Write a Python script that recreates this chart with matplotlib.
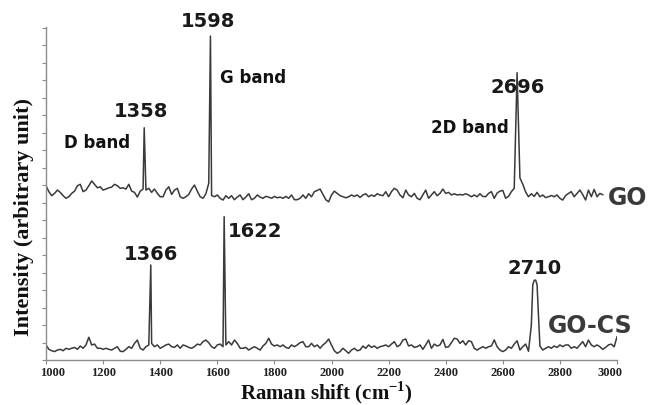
import numpy as np
import matplotlib.pyplot as plt
from matplotlib.transforms import ScaledTranslation

plt.rcParams['mathtext.fontset'] = 'custom'
plt.rcParams['mathtext.rm'] = 'Liberation Serif:bold'
plt.rcParams['mathtext.bf'] = 'Liberation Serif:bold'

# GO spectrum, sampled every 10 cm-1 (arbitrary intensity units)
go_shift = np.arange(1000, 2960, 10)
go_counts = [
    9.96, 9.62, 9.39, 9.52, 9.71, 9.58, 9.39, 9.24, 9.33, 9.52,
    9.65, 9.96, 10.04, 9.62, 9.71, 9.96, 10.23, 10.04, 9.84, 9.90,
    9.71, 9.77, 9.84, 9.88, 10.04, 9.96, 9.81, 9.84, 9.77, 10.04,
    9.65, 9.58, 9.31, 9.65, 9.77, 9.71, 9.81, 9.58, 9.77, 9.52,
    9.33, 9.33, 9.71, 9.90, 9.46, 9.71, 9.81, 9.33, 9.24, 9.33,
    9.46, 9.77, 10.00, 9.65, 9.33, 9.24, 9.50, 10.10, 9.40, 9.33,
    9.43, 9.24, 9.14, 9.39, 9.24, 9.39, 9.16, 9.31, 9.43, 9.16,
    9.31, 9.50, 9.16, 9.24, 9.43, 9.31, 9.24, 9.35, 9.31, 9.24,
    9.35, 9.27, 9.31, 9.24, 9.35, 9.24, 9.43, 9.16, 9.16, 9.24,
    9.43, 9.24, 9.50, 9.33, 9.62, 9.69, 9.77, 9.46, 9.16, 9.04,
    9.43, 9.65, 9.52, 9.39, 9.33, 9.27, 9.33, 9.43, 9.35, 9.43,
    9.29, 9.43, 9.50, 9.33, 9.43, 9.35, 9.50, 9.43, 9.39, 9.62,
    9.33, 9.62, 9.81, 9.71, 9.43, 9.27, 9.71, 9.43, 9.33, 9.52,
    9.24, 9.16, 9.43, 9.71, 9.24, 9.43, 9.62, 9.39, 9.52, 9.77,
    9.52, 9.58, 9.43, 9.50, 9.43, 9.46, 9.43, 9.50, 9.43, 9.33,
    9.43, 9.33, 9.50, 9.35, 9.33, 9.52, 9.62, 9.24, 9.54, 9.65,
    9.69, 9.24, 9.35, 9.62, 9.81, 16.42, 10.40, 10.05, 9.60, 9.33,
    9.50, 9.35, 9.58, 9.33, 9.43, 9.28, 9.33, 9.40, 9.33, 9.43,
    9.24, 9.14, 9.40, 9.52, 9.62, 9.33, 9.52, 9.71, 9.45, 9.14,
    9.71, 9.33, 9.75, 9.33, 9.52, 9.45,
]
go_peak_shift = [1344, 1576]
go_peak_counts = [13.27, 18.51]

# GO-CS spectrum, sampled every 10 cm-1
gocs_shift = np.arange(1000, 3010, 10)
gocs_counts = [
    0.86, 0.61, 0.53, 0.48, 0.57, 0.61, 0.53, 0.67, 0.61, 0.67,
    0.72, 0.61, 0.80, 0.67, 0.86, 1.30, 0.86, 0.91, 0.67, 0.67,
    0.61, 0.67, 0.61, 0.57, 0.67, 0.76, 0.50, 0.48, 0.61, 0.76,
    0.67, 0.95, 1.14, 0.67, 0.57, 0.76, 0.86, 0.95, 0.76, 0.86,
    0.67, 0.76, 0.86, 0.91, 0.76, 0.72, 0.86, 0.67, 0.86, 0.80,
    0.72, 0.67, 0.76, 0.91, 0.86, 1.05, 1.14, 0.99, 0.76, 0.67,
    0.86, 0.91, 0.76, 0.86, 1.05, 0.86, 1.14, 0.95, 0.67, 0.67,
    0.72, 0.57, 0.67, 0.76, 0.67, 0.57, 0.80, 0.95, 1.24, 0.91,
    0.80, 0.86, 0.76, 0.86, 0.72, 0.67, 0.86, 0.76, 0.86, 0.99,
    1.05, 0.76, 0.76, 0.95, 0.76, 0.86, 0.67, 0.86, 0.99, 1.20,
    0.85, 0.53, 0.38, 0.48, 0.67, 0.53, 0.38, 0.57, 0.67, 0.53,
    0.57, 0.80, 0.67, 0.86, 0.72, 0.80, 0.67, 0.76, 0.80, 0.86,
    0.76, 0.91, 1.05, 0.76, 0.86, 1.14, 1.20, 0.80, 0.86, 0.72,
    0.76, 0.86, 0.61, 0.86, 1.14, 0.67, 0.91, 0.80, 0.86, 1.18,
    0.72, 0.76, 0.99, 1.24, 1.20, 0.95, 1.10, 0.86, 1.10, 1.05,
    0.67, 0.57, 0.67, 0.76, 0.67, 0.76, 0.80, 1.15, 0.76, 0.57,
    0.48, 0.57, 0.76, 0.67, 0.91, 1.10, 0.57, 0.76, 0.91, 0.50,
    2.00, 4.55, 4.30, 0.80, 0.57, 0.67, 0.76, 0.67, 0.80, 0.72,
    0.86, 0.76, 0.86, 0.86, 0.67, 0.76, 0.67, 0.86, 1.05, 0.76,
    1.14, 0.86, 0.76, 0.86, 0.76, 0.61, 0.72, 0.86, 0.91, 0.75,
    1.33,
]
gocs_peak_shift = [1367, 1624, 2705, 2715, 2725]
gocs_peak_counts = [5.43, 8.19, 4.30, 4.57, 2.50]


def merge_peaks(shift, counts, peak_shift, peak_counts):
    x = np.concatenate([shift, peak_shift])
    y = np.concatenate([counts, peak_counts])
    order = np.argsort(x)
    return x[order], y[order]


go_x, go_y = merge_peaks(go_shift, go_counts, go_peak_shift, go_peak_counts)
cs_x, cs_y = merge_peaks(gocs_shift, gocs_counts, gocs_peak_shift, gocs_peak_counts)

fig = plt.figure(figsize=(6.51, 4.05), dpi=100)
ax = fig.add_axes([46 / 651, 1 - 360 / 405, 571 / 651, 333 / 405])

line_color = '#3a3a3a'
ax.plot(go_x, go_y, color=line_color, lw=1.1)
ax.plot(cs_x, cs_y, color=line_color, lw=1.1)

ax.set_xlim(1000, 3000)
ax.set_ylim(0, 19.03)
ax.set_xticks(np.arange(1000, 3001, 200))
ax.set_yticks(np.arange(0, 20, 1))
ax.set_yticklabels([])
for side in ['top', 'right']:
    ax.spines[side].set_visible(False)
for side in ['left', 'bottom']:
    ax.spines[side].set_color('#8c8c8c')
    ax.spines[side].set_linewidth(1.0)
ax.tick_params(direction='out', length=3, width=0.8, color='#8c8c8c', pad=2)
xlabels = ax.get_xticklabels()
for lab in xlabels:
    lab.set_fontfamily('Liberation Serif')
    lab.set_fontweight('bold')
    lab.set_fontsize(9)
    lab.set_color('#222222')
# end labels sit slightly inward in the reference
xlabels[0].set_transform(xlabels[0].get_transform() + ScaledTranslation(7 / 100, 0, fig.dpi_scale_trans))
xlabels[-1].set_transform(xlabels[-1].get_transform() + ScaledTranslation(-7 / 100, 0, fig.dpi_scale_trans))

ax.set_xlabel(r'Raman shift (cm$^{\mathbf{-1}}$)', fontfamily='Liberation Serif',
              fontweight='bold', fontsize=15, color='#111111')
ax.xaxis.set_label_coords((326.7 - 46) / 571, -(399 - 360) / 333)
ax.xaxis.label.set_va('baseline')
ax.set_ylabel('Intensity (arbitrary unit)', fontfamily='Liberation Serif',
              fontweight='bold', fontsize=16, color='#111111')
ax.yaxis.set_label_coords((23.5 - 46) / 571, (360 - 216.5) / 333)
ax.yaxis.label.set_va('center')

num_kw = dict(fontfamily='DejaVu Sans', fontweight='bold', fontsize=14,
              color='#1a1a1a', ha='center', va='baseline')
band_kw = dict(fontfamily='DejaVu Sans', fontweight='bold', fontsize=12,
               color='#111111', ha='center', va='baseline')
name_kw = dict(fontfamily='DejaVu Sans', fontweight='bold', fontsize=17,
               color='#3a3a3a', va='baseline')

ax.text(1332, 13.89, '1358', **num_kw)
ax.text(1567, 19.03, '1598', **num_kw)
ax.text(2652, 15.26, '2696', **num_kw)
ax.text(1368, 5.71, '1366', **num_kw)
ax.text(1732, 7.03, '1622', **num_kw)
ax.text(2711, 4.91, '2710', **num_kw)

ax.text(1180, 12.11, 'D band', **band_kw)
ax.text(1725, 15.83, 'G band', **band_kw)
ax.text(2486, 12.97, '2D band', **band_kw)

ax.text(2967, 8.86, 'GO', ha='left', **name_kw)
ax.text(2907, 1.54, 'GO-CS', ha='center', **name_kw)

fig.savefig('out.png', dpi=100)
